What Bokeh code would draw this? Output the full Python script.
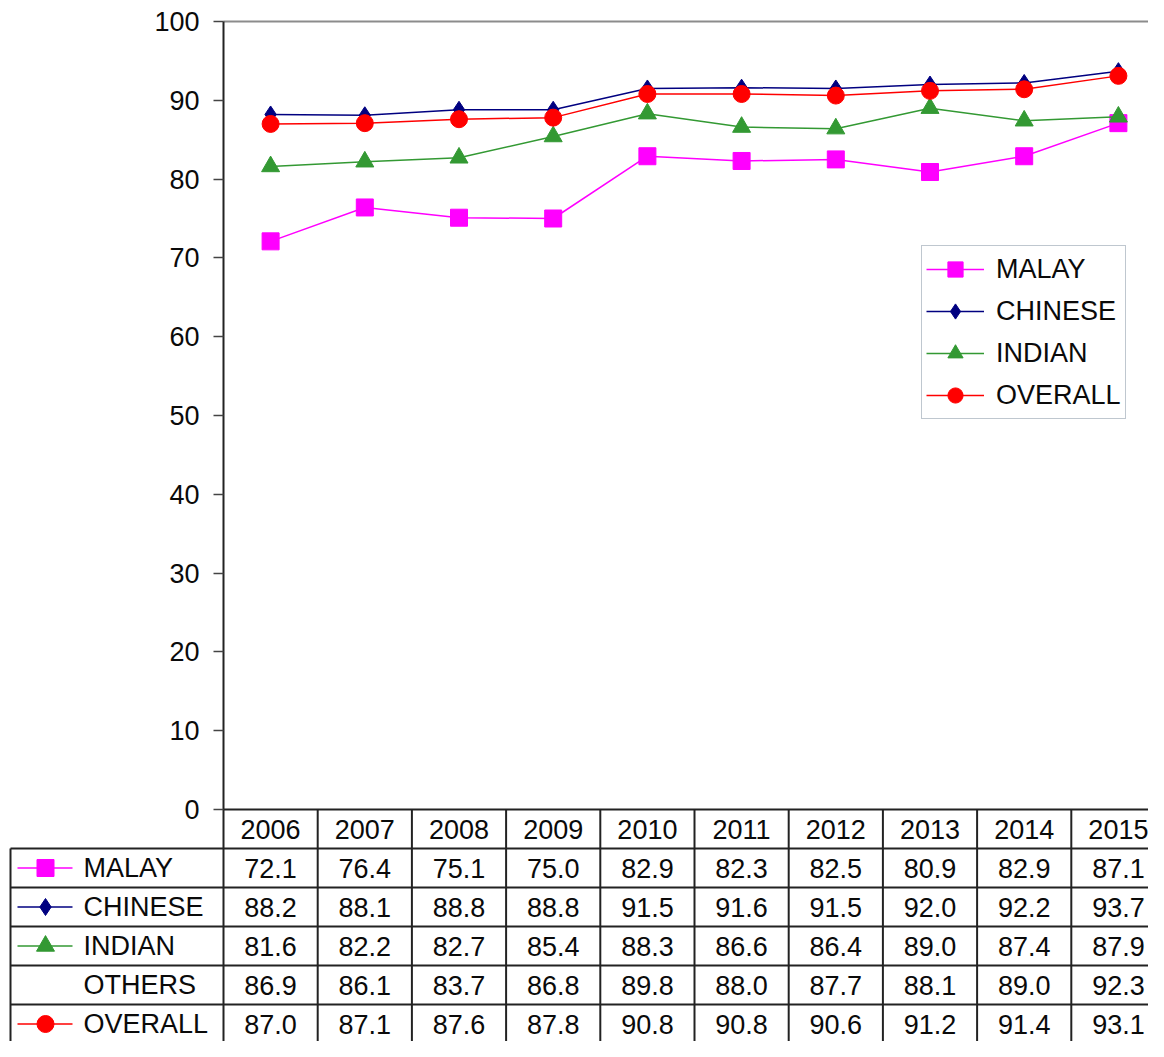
from bokeh.plotting import figure
from bokeh.models import Range1d, LinearAxis, FixedTicker, Legend, LegendItem
from bokeh.embed import file_html
from bokeh.resources import INLINE
from bokeh.core.properties import value

# ---------------- data ----------------
years = ["2006", "2007", "2008", "2009", "2010", "2011", "2012", "2013", "2014", "2015"]
malay = [72.1, 76.4, 75.1, 75.0, 82.9, 82.3, 82.5, 80.9, 82.9, 87.1]
chinese = [88.2, 88.1, 88.8, 88.8, 91.5, 91.6, 91.5, 92.0, 92.2, 93.7]
indian = [81.6, 82.2, 82.7, 85.4, 88.3, 86.6, 86.4, 89.0, 87.4, 87.9]
others = [86.9, 86.1, 83.7, 86.8, 89.8, 88.0, 87.7, 88.1, 89.0, 92.3]
overall = [87.0, 87.1, 87.6, 87.8, 90.8, 90.8, 90.6, 91.2, 91.4, 93.1]
y_ticks = [0, 10, 20, 30, 40, 50, 60, 70, 80, 90, 100]

table_labels = ["MALAY", "CHINESE", "INDIAN", "OTHERS", "OVERALL"]
table_values = [malay, chinese, indian, others, overall]

# ---------------- styles ----------------
FONT = value("Liberation Sans")
FS = "27px"
TXT = "#0a0a0a"
styles = {
    "MALAY": dict(color="#ff00ff", marker="square", size=17),
    "CHINESE": dict(color="#000080", marker="diamond", size=17),
    "INDIAN": dict(color="#339933", marker="triangle", size=18),
    "OVERALL": dict(color="#ff0000", marker="circle", size=17),
}
plotted = ["MALAY", "CHINESE", "INDIAN", "OVERALL"]
series = {"MALAY": malay, "CHINESE": chinese, "INDIAN": indian, "OVERALL": overall}

# ---------------- geometry ----------------
W, H = 1148, 1041
PX = 94.2      # pixels per category
PY = 7.88      # pixels per unit
x_start = -0.5 - 223 / PX
x_end = x_start + W / PX
y_end = 100 + 21 / PY
y_start = y_end - H / PY

n = len(years)
head_h = 39 / PY
row_h = 39 / PY
lab_left = -0.5 - 213 / PX
mk_x = -0.5 - 178 / PX
mk_l0 = -0.5 - 206 / PX
mk_l1 = -0.5 - 151 / PX
txt_x = -0.5 - 140 / PX

p = figure(width=W, height=H,
           x_range=Range1d(x_start, x_end), y_range=Range1d(y_start, y_end),
           output_backend="svg", toolbar_location=None,
           x_axis_location=None, y_axis_location=None,
           min_border=0, outline_line_color=None, background_fill_color="white")
for g in p.grid:
    g.visible = False

# y axis at the left edge of the chart area
yaxis = LinearAxis(fixed_location=-0.5, ticker=FixedTicker(ticks=y_ticks),
                   bounds=(y_start, 100),
                   major_tick_out=10, major_tick_in=0,
                   minor_tick_line_color=None,
                   major_label_standoff=14,
                   major_label_text_font="Liberation Sans",
                   major_label_text_font_size=FS,
                   major_label_text_color=TXT,
                   axis_line_width=2, axis_line_color="#222222",
                   major_tick_line_color="#444444", major_tick_line_width=1.5)
p.add_layout(yaxis, "left")

# top border of chart area
p.segment(x0=[-0.5], y0=[max(y_ticks)], x1=[x_end], y1=[max(y_ticks)],
          line_color="#8c8c8c", line_width=2)

# ---------------- chart series ----------------
items = []
xs = list(range(n))
for name in plotted:
    st = styles[name]
    ln = p.line(xs, series[name], line_color=st["color"], line_width=1.5)
    sc = p.scatter(xs, series[name], marker=st["marker"], size=st["size"],
                   fill_color=st["color"], line_color=st["color"])
    items.append(LegendItem(label=name, renderers=[ln, sc]))

legend = Legend(items=items, location=(921, 622),
                label_text_font="Liberation Sans", label_text_font_size=FS,
                label_text_color=TXT,
                glyph_width=58, glyph_height=38, spacing=4, padding=4,
                label_standoff=12, margin=0,
                border_line_color="#7f8fa0", border_line_width=1.5,
                background_fill_color="white", background_fill_alpha=1)
p.add_layout(legend)

# ---------------- data table ----------------
n_rows = len(table_labels)
row_bottoms = [-head_h - k * row_h for k in range(n_rows + 1)]
hx0 = [-0.5] + [lab_left] * len(row_bottoms)
hy = [0] + row_bottoms
hx1 = [x_end] * len(hx0)
vx = [-0.5 + k for k in range(1, n + 1)] + [lab_left]
vy0 = [0] * n + [row_bottoms[0]]
vy1 = [y_start] * len(vx)
p.segment(x0=hx0, y0=hy, x1=hx1, y1=hy, line_color="#222222", line_width=2)
p.segment(x0=vx, y0=vy0, x1=vx, y1=vy1, line_color="#222222", line_width=2)

# header (years)
p.text(x=xs, y=[-head_h / 2] * n, text=years, text_align="center",
       text_baseline="middle", text_font=FONT, text_font_size=FS, text_color=TXT)

# row labels, markers and values
row_mid = [row_bottoms[k] - row_h / 2 for k in range(n_rows)]
p.text(x=[txt_x] * n_rows, y=row_mid, text=table_labels, text_align="left",
       text_baseline="middle", text_font=FONT, text_font_size=FS, text_color=TXT)
for k, name in enumerate(table_labels):
    if name in styles:
        st = styles[name]
        p.segment(x0=[mk_l0], y0=[row_mid[k]], x1=[mk_l1], y1=[row_mid[k]],
                  line_color=st["color"], line_width=1.5)
        p.scatter([mk_x], [row_mid[k]], marker=st["marker"], size=st["size"],
                  fill_color=st["color"], line_color=st["color"])
    p.text(x=xs, y=[row_mid[k]] * n, text=["%.1f" % v for v in table_values[k]],
           text_align="center", text_baseline="middle", text_font=FONT,
           text_font_size=FS, text_color=TXT)

open("out.html", "w").write(file_html(p, INLINE))
